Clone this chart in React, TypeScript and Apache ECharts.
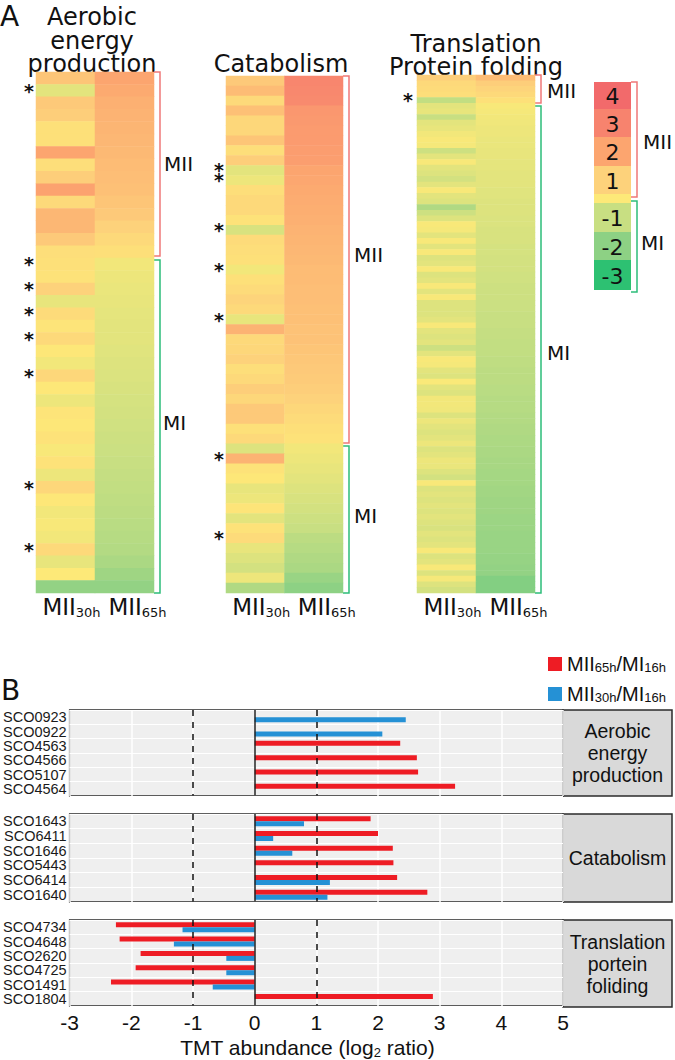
import React, { useEffect, useRef } from 'react';
import * as echarts from 'echarts';

// ---------------- Panel A data (log2 ratios, estimated from colours) ----------------
const colLabels = ['MII30h', 'MII65h'];

const aeroStars = [1, 15, 17, 19, 21, 24, 33, 38];
const aero30 = [1.3, -0.5, 1.2, 1.1, 0.4, 0.4, 2.0, 0.5, 1.1, 2.1, 0.7, 1.6, 1.6, 1.2, 0.5,
  0.4, 0.3, 1.0, -0.4, 0.6, 0.2, 0.7, 0.1, -0.2, 0.8, 0.1, -0.3, 0.2, 0.1, 0.3,
  -0.1, 0.3, -0.3, 0.8, 0.1, -0.2, -0.1, -0.2, 0.7, -0.4, 0.0, -1.9];
const aero65 = [2.0, 1.9, 1.75, 1.7, 1.65, 1.6, 1.55, 1.5, 1.45, 1.4, 1.3, 1.2, 1.0, 0.7, 0.45,
  -0.2, -0.3, -0.35, -0.4, -0.45, -0.5, -0.5, -0.55, -0.6, -0.65, -0.7, -0.75, -0.8, -0.85, -0.9,
  -0.95, -1.0, -1.05, -1.1, -1.15, -1.2, -1.25, -1.3, -1.35, -1.5, -1.7, -1.9];

const cataStars = [9, 10, 15, 19, 24, 38, 46];
const cata30 = [1.2, 1.5, 0.7, 1.4, 0.8, 0.8, 1.3, 0.5, 1.1, -0.5,
  -0.3, 0.5, 0.7, 0.7, 0.3, -0.7, 0.6, 0.5, 0.4, -0.2,
  0.4, 0.6, 0.9, 0.7, -0.4, 1.7, 0.7, 0.8, 1.0, 0.5,
  0.7, 1.1, 0.8, 1.2, 1.2, 0.4, 0.7, -0.6, 1.7, 0.3,
  0.1, -0.4, -0.3, 0.2, -0.5, 0.3, 0.6, -0.4, -0.6, -0.8,
  -0.3, -1.4];
const cata65 = [2.9, 2.85, 2.8, 2.4, 2.35, 2.3, 2.3, 2.25, 2.2, 2.0,
  1.95, 1.9, 1.85, 1.8, 1.75, 1.7, 1.65, 1.6, 1.55, 1.5,
  1.5, 1.45, 1.45, 1.4, 1.4, 1.35, 1.35, 1.3, 1.25, 1.2,
  1.15, 1.1, 1.0, 0.8, 0.6, 0.45, 0.3,
  -0.2, -0.3, -0.4, -0.5, -0.6, -0.7, -0.8, -0.9, -1.0, -1.2, -1.3, -1.4, -1.5, -1.8, -2.0];

const transStars = [4];
const trans30 = [1.1, 0.7, 0.6, 0.5, -1.1, -0.5, -0.4, -1.0, -0.5, -0.4,
  -0.2, -0.1, -0.15, -0.9, -0.5, -0.1, -0.5, -0.6, -0.8, -0.5,
  -0.1, -0.5, -0.6, -1.4, -0.9, -0.6, -0.1, -0.15, -0.5, -0.1,
  -0.5, -0.1, -0.6, -0.5, -0.1, -0.6, -0.5, -0.1, -0.5, -0.1,
  -0.6, -0.6, -0.6,
  -0.5, -0.1, -0.5, -0.6, -0.5, -0.9, -0.5, -0.1, -0.15, -0.5,
  -0.6, -0.05, -0.5, -0.6, -0.2, -0.2, -0.25, -0.6, -0.3, -0.5,
  -0.6, -0.5, -0.3, -0.6, -0.5, -0.3, -0.35, -0.6, -0.8, -0.1,
  -0.6, -0.5, -0.6, -0.5, -0.6, -0.5, -0.6, -0.7, -0.5, -0.6,
  -0.5, -0.1, -0.6, -0.5, -0.1, -0.6, -0.15, -0.6, -0.8];
const trans65 = [1.5, 1.1, 0.9, 0.7, 0.4,
  -0.1, -0.15, -0.2, -0.25, -0.3, -0.3, -0.35, -0.35, -0.4, -0.4,
  -0.45, -0.45, -0.5, -0.5, -0.5, -0.55, -0.55, -0.6, -0.6, -0.6,
  -0.65, -0.65, -0.7, -0.7, -0.7, -0.75, -0.75, -0.8, -0.8, -0.8,
  -0.85, -0.85, -0.9, -0.9, -0.9, -0.95, -0.95, -1.0, -1.0, -1.0,
  -1.05, -1.05, -1.1, -1.1, -1.1, -1.15, -1.15, -1.2, -1.2, -1.2,
  -1.25, -1.25, -1.3, -1.3, -1.3, -1.35, -1.35, -1.4, -1.4, -1.45,
  -1.45, -1.5, -1.5, -1.55, -1.55, -1.6, -1.6, -1.6, -1.65, -1.65,
  -1.7, -1.7, -1.7, -1.75, -1.75, -1.75, -1.8, -1.8, -1.8, -1.8,
  -1.85, -1.85, -1.9, -1.9, -2.1, -2.1, -2.1];

const heatTitles = ['Aerobic\nenergy\nproduction', 'Catabolism', 'Translation\nProtein folding'];

// colour key
const keyLabels = ['4', '3', '2', '1', '', '-1', '-2', '-3'];
const keyColors = ['#f26a6b', '#f7836e', '#fca56f', '#fdd27b', '#fde978', '#c8df82', '#8dd184', '#2dc172'];

// ---------------- Panel B data ----------------
const NAME_RED = 'MII65h/MI16h';
const NAME_BLUE = 'MII30h/MI16h';
const aeroGenes = ['SCO0923', 'SCO0922', 'SCO4563', 'SCO4566', 'SCO5107', 'SCO4564'];
const aeroRed = [null, null, 2.36, 2.63, 2.65, 3.25];
const aeroBlue = [2.45, 2.07, null, null, null, null];
const cataGenes = ['SCO1643', 'SCO6411', 'SCO1646', 'SCO5443', 'SCO6414', 'SCO1640'];
const cataRed = [1.88, 2.0, 2.24, 2.25, 2.31, 2.8];
const cataBlue = [0.8, 0.3, 0.61, null, 1.22, 1.18];
const transGenes = ['SCO4734', 'SCO4648', 'SCO2620', 'SCO4725', 'SCO1491', 'SCO1804'];
const transRed = [-2.25, -2.19, -1.85, -1.93, -2.33, 2.89];
const transBlue = [-1.17, -1.31, -0.46, -0.46, -0.68, null];
const stripLabels = ['Aerobic\nenergy\nproduction', 'Catabolism', 'Translation\nportein\nfoliding'];
const xTicksMin = -3;
const xTicksMax = 5;
const dashedRefs = [-1, 1];
const solidRef = 0;

const FA = '"DejaVu Sans", sans-serif';
const FB = '"Liberation Sans", Arial, sans-serif';
const RED = '#ee1c24';
const BLUE = '#2591d5';

function buildOption() {
  const heats = [
    { v30: aero30, v65: aero65, stars: aeroStars, grid: { left: 36, top: 72, width: 118, height: 521 }, starMargin: 2 },
    { v30: cata30, v65: cata65, stars: cataStars, grid: { left: 226, top: 76, width: 117, height: 517 }, starMargin: 2 },
    { v30: trans30, v65: trans65, stars: transStars, grid: { left: 417, top: 75, width: 118, height: 518 }, starMargin: 4 },
  ];
  const bars = [
    { genes: aeroGenes, red: aeroRed, blue: aeroBlue, grid: { left: 67, top: 710, width: 496, height: 86 } },
    { genes: cataGenes, red: cataRed, blue: cataBlue, grid: { left: 67, top: 814, width: 496, height: 88 } },
    { genes: transGenes, red: transRed, blue: transBlue, grid: { left: 67, top: 920, width: 496, height: 87 } },
  ];

  const grid: any[] = [];
  const xAxis: any[] = [];
  const yAxis: any[] = [];
  const series: any[] = [];

  const subRich = {
    m: { fontSize: 23, fontFamily: FA, color: '#111', verticalAlign: 'top', lineHeight: 24 },
    s: { fontSize: 13, fontFamily: FA, color: '#111', verticalAlign: 'bottom', lineHeight: 13, padding: [18, 0, 0, 0] },
  };
  const labelShift = [[0, 0, 0, 12], [0, 0, 0, 26]];

  heats.forEach((h, i) => {
    grid.push({ ...h.grid, show: false });
    xAxis.push({
      type: 'category', gridIndex: i, position: 'bottom',
      data: colLabels.map((c, j) => ({ value: c, textStyle: { padding: labelShift[j] } })),
      axisLine: { show: false }, axisTick: { show: false }, splitLine: { show: false },
      axisLabel: {
        margin: 2, interval: 0,
        formatter: (v: string) => `{m|MII}{s|${v.slice(3)}}`,
        rich: subRich,
      },
    });
    const n = h.v30.length;
    yAxis.push({
      type: 'category', gridIndex: i, inverse: true,
      data: h.v30.map((_, r) => String(r)),
      axisLine: { show: false }, axisTick: { show: false }, splitLine: { show: false },
      axisLabel: {
        interval: 0, margin: h.starMargin, fontSize: 19, fontWeight: 'bold', fontFamily: FA, color: '#111',
        lineHeight: 4, padding: [7, 0, 0, 0],
        formatter: (v: string) => (h.stars.indexOf(Number(v)) >= 0 ? '*' : ''),
      },
    });
    const data: any[] = [];
    for (let r = 0; r < n; r++) {
      data.push([0, r, h.v30[r]]);
      data.push([1, r, h.v65[r]]);
    }
    series.push({
      type: 'heatmap', xAxisIndex: i, yAxisIndex: i, data,
      itemStyle: { borderWidth: 0 }, emphasis: { disabled: true }, silent: true,
    });
  });

  const lbRich = {
    m: { fontSize: 21, fontFamily: FB, color: '#111', verticalAlign: 'top', lineHeight: 22 },
    s: { fontSize: 13, fontFamily: FB, color: '#111', verticalAlign: 'bottom', lineHeight: 13, padding: [12, 0, 0, 0] },
  };

  bars.forEach((b, k) => {
    const gi = 3 + k;
    const last = k === bars.length - 1;
    grid.push({ ...b.grid, show: true, backgroundColor: '#efefef', borderColor: '#2b2b2b', borderWidth: 1.5 });
    xAxis.push({
      type: 'value', gridIndex: gi, min: xTicksMin, max: xTicksMax, interval: 1,
      axisLine: { show: false }, axisTick: { show: false },
      splitLine: { show: true, lineStyle: { color: '#ffffff', width: 1.5 } },
      axisLabel: { show: last, fontSize: 21, fontFamily: FB, color: '#111', margin: 6 },
      name: last ? '{m|TMT abundance (log}{s|2}{m| ratio)}' : '',
      nameLocation: 'middle', nameGap: 28,
      nameTextStyle: { rich: lbRich, padding: [0, 18, 0, 0] },
    });
    yAxis.push({
      type: 'category', gridIndex: gi, inverse: true, data: b.genes,
      axisLine: { show: false }, axisTick: { show: false },
      splitLine: { show: true, lineStyle: { color: '#ffffff', width: 1 } },
      axisLabel: { interval: 0, fontSize: 14.5, fontFamily: FB, color: '#1a1a1a', margin: 3, lineHeight: 14 },
    });
    series.push({
      type: 'bar', name: NAME_RED, xAxisIndex: gi, yAxisIndex: gi, data: b.red,
      barWidth: 5, barGap: '0%', itemStyle: { color: RED }, silent: true,
      markLine: {
        silent: true, symbol: 'none', label: { show: false }, animation: false,
        data: [
          ...dashedRefs.map((x) => ({ xAxis: x, lineStyle: { type: [6, 6], color: '#111', width: 1.5 } })),
          { xAxis: solidRef, lineStyle: { type: 'solid', color: '#222', width: 1.5 } },
        ],
      },
    });
    series.push({
      type: 'bar', name: NAME_BLUE, xAxisIndex: gi, yAxisIndex: gi, data: b.blue,
      barWidth: 5, barGap: '0%', itemStyle: { color: BLUE }, silent: true,
    });
  });

  // graphic elements: titles, brackets, labels, colour key, strips
  const g: any[] = [];
  const txt = (text: string, x: number, y: number, fontSize: number, opts: any = {}) => ({
    type: 'text', x, y, silent: true,
    style: {
      text, fill: '#111', font: `${opts.weight || 'normal'} ${fontSize}px ${opts.family || FA}`,
      textAlign: opts.align || 'left', align: opts.align || 'left',
      textVerticalAlign: opts.va || 'middle', verticalAlign: opts.va || 'middle',
      lineHeight: opts.lh,
    },
  });
  const bracket = (x0: number, y0: number, y1: number, color: string) => ({
    type: 'polyline', silent: true,
    shape: { points: [[x0, y0], [x0 + 6, y0], [x0 + 6, y1], [x0, y1]] },
    style: { stroke: color, lineWidth: 1.5, fill: null },
  });
  const BR = '#f07878';
  const BG = '#2dbd7a';

  g.push(txt('A', 0, 2, 28, { va: 'top' }));
  g.push(txt('B', 1, 676, 28, { va: 'top' }));
  g.push(txt(heatTitles[0], 92, 76, 24, { align: 'center', va: 'bottom', lh: 23.5 }));
  g.push(txt(heatTitles[1], 281, 76, 24, { align: 'center', va: 'bottom', lh: 23.5 }));
  g.push(txt(heatTitles[2], 476, 78, 24, { align: 'center', va: 'bottom', lh: 23 }));

  g.push(bracket(154, 72, 256, BR), bracket(154, 260, 593, BG));
  g.push(bracket(343, 76, 443, BR), bracket(343, 446, 593, BG));
  g.push(bracket(535, 75, 103, BR), bracket(535, 106, 593, BG));
  g.push(bracket(631, 82, 197, BR), bracket(631, 201, 292, BG));

  g.push(txt('MII', 164, 164, 20), txt('MI', 163, 423, 20));
  g.push(txt('MII', 354, 255, 20), txt('MI', 354, 516, 20));
  g.push(txt('MII', 547, 91, 20), txt('MI', 547, 353, 20));
  g.push(txt('MII', 643, 142, 20), txt('MI', 641, 243, 20));

  const keyHeights = [27, 28, 29, 28, 9, 29, 28, 30];
  let ky = 82;
  keyLabels.forEach((lab, i) => {
    g.push({ type: 'rect', silent: true, shape: { x: 594, y: ky, width: 37, height: keyHeights[i] }, style: { fill: keyColors[i] } });
    if (lab) g.push(txt(lab, 612.5, ky + keyHeights[i] / 2 + 1, 22, { align: 'center' }));
    ky += keyHeights[i];
  });

  bars.forEach((b, k) => {
    const gr = b.grid;
    g.push({ type: 'rect', silent: true, shape: { x: 563, y: gr.top, width: 109, height: gr.height },
      style: { fill: '#d9d9d9', stroke: '#2b2b2b', lineWidth: 1.5 } });
    g.push(txt(stripLabels[k], 617.5, gr.top + gr.height / 2, 19.5, { align: 'center', family: FB, lh: 22 }));
  });

  return {
    animation: false,
    backgroundColor: '#ffffff',
    textStyle: { fontFamily: FA },
    grid, xAxis, yAxis, series,
    visualMap: {
      type: 'continuous', show: false, min: -3, max: 4, dimension: 2, seriesIndex: [0, 1, 2],
      inRange: { color: keyColors.slice().reverse() },
    },
    legend: {
      data: [NAME_RED, NAME_BLUE], orient: 'vertical', left: 548, top: 649,
      itemWidth: 14, itemHeight: 14, itemGap: 5, icon: 'rect', selectedMode: false, padding: 0,
      formatter: (n: string) => `{m|MII}{s|${n.slice(3, 6)}}{m|/MI}{s|${n.slice(9)}}`,
      textStyle: {
        rich: {
          m: { fontSize: 20, fontFamily: FB, color: '#111', verticalAlign: 'top', lineHeight: 20 },
          s: { fontSize: 13, fontFamily: FB, color: '#111', verticalAlign: 'bottom', lineHeight: 13, padding: [12, 0, 0, 0] },
        },
      },
    },
    graphic: { elements: g },
  };
}

export default function App() {
  const ref = useRef<HTMLDivElement>(null);
  useEffect(() => {
    if (!ref.current) return;
    const chart = echarts.init(ref.current, null, { renderer: 'svg' });
    chart.setOption(buildOption() as any);
    return () => chart.dispose();
  }, []);
  return (
    <div
      ref={ref}
      style={{ position: 'absolute', left: 0, top: 0, width: 675, height: 1060, background: '#fff' }}
    />
  );
}
